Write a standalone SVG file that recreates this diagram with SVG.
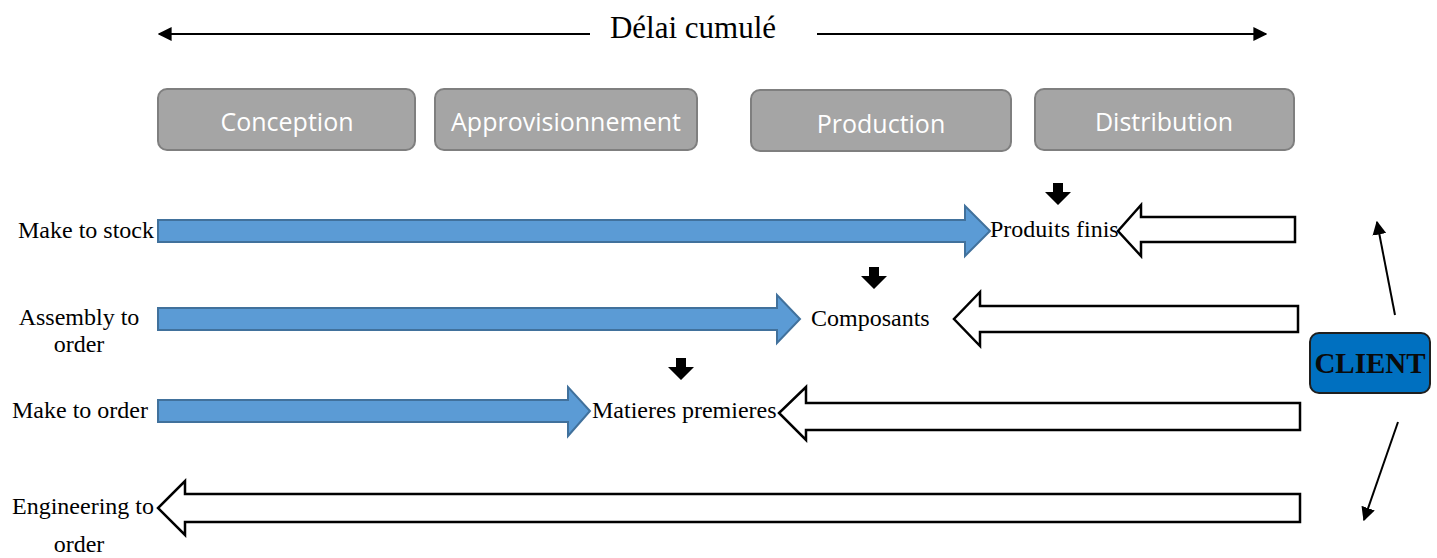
<svg xmlns="http://www.w3.org/2000/svg" width="1437" height="558" viewBox="0 0 1437 558">
<style>
.serif{font-family:"Liberation Serif","Times New Roman",serif;fill:#000;font-size:24px}
.box{fill:#a5a5a5;stroke:#7f7f7f;stroke-width:2}
.boxt{font-family:"Open Sans","Noto Sans",sans-serif;fill:#fff;font-size:25px;text-anchor:middle}
.blue{fill:#5b9bd5;stroke:#41719c;stroke-width:2}
.hollow{fill:#fff;stroke:#000;stroke-width:2.5}
.down{fill:#000}
.line{stroke:#000;stroke-width:2;fill:none}
</style>
<defs>
<marker id="ah" viewBox="0 0 10 10" refX="9" refY="5" markerWidth="7" markerHeight="7" orient="auto-start-reverse" markerUnits="strokeWidth">
<path d="M0,0 L10,5 L0,10 z" fill="#000"/>
</marker>
</defs>
<g id="title">
<text x="693" y="38" class="serif" style="font-size:31px" text-anchor="middle">Délai cumulé</text>
</g>
<g id="connectors">
<line class="line" x1="590" y1="34" x2="159" y2="34" marker-end="url(#ah)"/>
<line class="line" x1="817" y1="34" x2="1266" y2="34" marker-end="url(#ah)"/>
<line class="line" x1="1395" y1="315" x2="1377" y2="222" marker-end="url(#ah)"/>
<line class="line" x1="1398" y1="422" x2="1364" y2="520" marker-end="url(#ah)"/>
</g>
<g id="conception"><rect class="box" x="158" y="89" width="257" height="61" rx="9"/><text class="boxt" x="287" y="131">Conception</text></g>
<g id="approvisionnement"><rect class="box" x="435" y="89" width="262" height="61" rx="9"/><text class="boxt" x="566" y="131">Approvisionnement</text></g>
<g id="production"><rect class="box" x="751" y="90" width="260" height="61" rx="9"/><text class="boxt" x="881" y="133">Production</text></g>
<g id="distribution"><rect class="box" x="1035" y="89" width="259" height="61" rx="9"/><text class="boxt" x="1164" y="131">Distribution</text></g>

<g id="make-to-stock">
<text class="serif" x="18" y="238">Make to stock</text>
<path class="blue" d="M158,220 H965 V206 L990,231 L965,256 V242 H158 Z"/>
</g>
<g id="assembly-to-order">
<text class="serif" x="79" y="325" text-anchor="middle">Assembly to</text>
<text class="serif" x="79" y="352" text-anchor="middle">order</text>
<path class="blue" d="M158,308 H777 V295 L800,319 L777,343 V330 H158 Z"/>
</g>
<g id="make-to-order">
<text class="serif" x="12" y="418">Make to order</text>
<path class="blue" d="M158,400 H568 V387 L590,411 L568,436 V422 H158 Z"/>
</g>
<g id="engineering-to-order">
<text class="serif" x="12" y="514">Engineering to</text>
<text class="serif" x="79" y="552" text-anchor="middle">order</text>
<path class="hollow" d="M1300,494 H185 V481 L158,508 L185,535 V522 H1300 Z"/>
</g>

<g id="produits-finis">
<path class="down" d="M1053,183 H1063 V192 H1071 L1058,205 L1045,192 H1053 Z"/>
<text class="serif" x="990" y="237">Produits finis</text>
<path class="hollow" d="M1295,217 H1141 V205 L1118,231 L1141,256 V242 H1295 Z"/>
</g>
<g id="composants">
<path class="down" d="M869,267 H879 V276 H887 L874,289 L861,276 H869 Z"/>
<text class="serif" x="811" y="326">Composants</text>
<path class="hollow" d="M1298,306 H980 V292 L954,319 L980,346 V332 H1298 Z"/>
</g>
<g id="matieres-premieres">
<path class="down" d="M676,358 H686 V367 H694 L681,380 L668,367 H676 Z"/>
<text class="serif" x="592" y="418">Matieres premieres</text>
<path class="hollow" d="M1300,403 H806 V387 L779,413 L806,440 V430 H1300 Z"/>
</g>

<g id="client">
<rect x="1310" y="333" width="120" height="60" rx="9" fill="#0070c0" stroke="#1f1f1f" stroke-width="2"/>
<text x="1370" y="373" text-anchor="middle" style="font-family:'Liberation Serif','Times New Roman',serif;font-weight:bold;font-size:29px;fill:#0a0a0a">CLIENT</text>
</g>
</svg>
